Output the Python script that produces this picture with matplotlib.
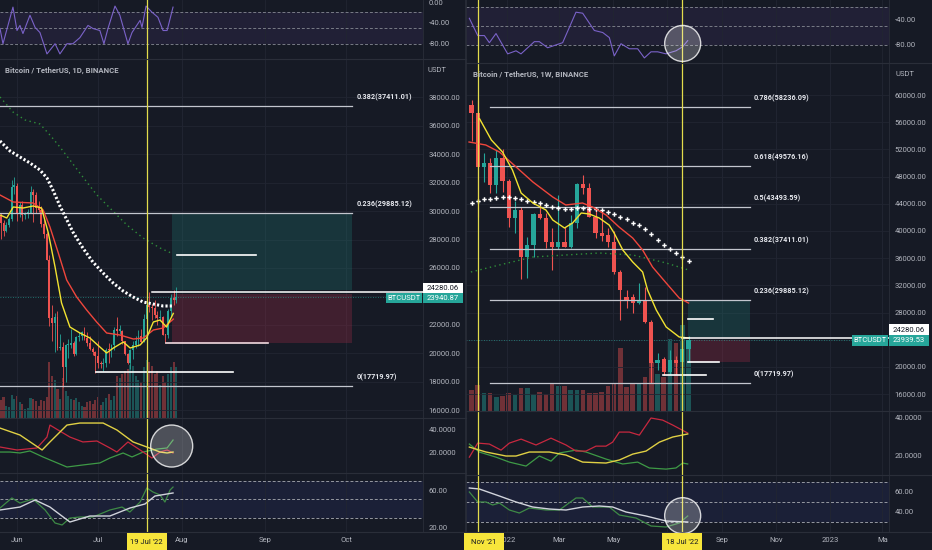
import matplotlib
matplotlib.use("Agg")
import matplotlib.pyplot as plt
from matplotlib.patches import Rectangle, Ellipse
from matplotlib.lines import Line2D
import numpy as np

plt.rcParams["font.family"] = ["Roboto", "DejaVu Sans"]

# ---------------- daily chart data (25 May .. 30 Jul 2022) ----------------
d_open = [29540, 29640, 29190, 28630, 29030, 29470, 31730,
          31800, 29800, 30450, 29700, 29860, 29900, 31370, 31130, 30200, 30110,
          29090, 28420, 26570, 22490, 22140, 22580, 20380, 20470, 19000, 20570,
          20570, 20720, 19970, 21110, 21230, 21500, 21040, 20730, 20280, 20100,
          19780, 19300, 19240, 19300, 20230, 20190, 20550, 21630, 21590, 21590,
          20850, 19960, 19330, 20210, 20590, 20830, 21200, 20790, 22430, 23400,
          23220, 23150, 22690, 22450, 22580, 21310, 21250, 22950, 23850, 23770]
d_high = [30200, 29850, 29380, 29240, 29560, 32220, 32400,
          31980, 30650, 30680, 29950, 30170, 31750, 31550, 31330, 30700, 30390,
          29440, 28540, 26880, 23360, 22800, 22980, 21360, 20790, 20650, 21000,
          21720, 20870, 21230, 21520, 21590, 21870, 21520, 21180, 20420, 20140,
          20880, 19430, 19650, 20350, 20750, 20650, 21840, 22530, 21950, 21600,
          20860, 20040, 20260, 20880, 21200, 21600, 21690, 22780, 23800, 24280,
          23440, 23760, 22990, 23020, 22650, 21350, 23110, 24200, 24440, 24670]
d_low = [29300, 28020, 28260, 28560, 28850, 29300, 31200,
         29300, 29580, 29280, 29470, 29500, 29880, 29220, 29850, 29950, 28850,
         28100, 26560, 21930, 20850, 20080, 20230, 20250, 17620, 17960, 19630,
         20350, 19770, 19890, 20850, 20900, 20960, 20510, 20200, 19850, 18630,
         18970, 18980, 18780, 19060, 19300, 19760, 20240, 21190, 21320, 20650,
         19880, 19240, 18910, 19620, 20380, 20480, 20750, 20760, 21580, 22910,
         22340, 22500, 21950, 22260, 21250, 20710, 21040, 22580, 23420, 23500]
d_close = [29640, 29190, 28630, 29030, 29470, 31730, 31800,
           29800, 30450, 29700, 29860, 29900, 31370, 31130, 30200, 30110, 29090,
           28420, 26570, 22490, 22140, 22580, 20380, 20470, 19000, 20570, 20570,
           20720, 19970, 21110, 21230, 21500, 21040, 20730, 20280, 20100, 19780,
           19300, 19240, 19300, 20230, 20190, 20550, 21630, 21590, 21590, 20850,
           19960, 19330, 20210, 20590, 20830, 21200, 20790, 22430, 23400, 23220,
           23150, 22690, 22450, 22580, 21310, 21250, 22950, 23850, 23770, 23940]
d_volume = [75, 80, 95, 55, 50, 105, 85,
            100, 70, 65, 40, 45, 90, 85, 75, 55, 80,
            75, 95, 250, 190, 170, 130, 85, 180, 120, 100,
            85, 80, 90, 70, 55, 50, 70, 75, 65, 80,
            95, 60, 70, 90, 110, 80, 100, 190, 180, 200,
            210, 220, 240, 235, 190, 170, 160, 230, 260, 250,
            235, 200, 210, 150, 190, 160, 200, 230, 250, 230]

d_ema_fast_x = [0.7, 3.2, 5.6, 9.3, 13.0, 16.1, 18.6, 21.1, 23.5, 26.6, 30.3, 34.0,
                37.7, 40.2, 42.7, 46.4, 48.9, 52.6, 55.0, 57.5, 60.0, 62.4, 64.9]
d_ema_fast = [29728, 29517, 30291, 30221, 30362, 30221, 28461, 26067, 23533, 21843,
              21421, 21069, 20435, 20013, 20365, 20787, 20365, 20576, 21069, 22195,
              22336, 21843, 22800]
d_ema_slow_x = [0.7, 5.6, 13.0, 16.7, 19.2, 22.3, 25.4, 29.1, 32.8, 36.5, 40.2, 45.1,
                50.1, 53.8, 57.5, 61.2, 64.9]
d_ema_slow = [31136, 30643, 30573, 30080, 28883, 27053, 25152, 23955, 23040, 22195,
              21421, 21280, 20998, 21069, 21632, 21773, 22400]
d_sma_x = [0.7, 4.4, 8.1, 11.8, 15.5, 18.1, 20.3, 22.9, 25.5, 27.7, 31.4, 35.1, 38.9,
           42.6, 46.3, 50.0, 53.7, 57.4, 61.1, 64.8]
d_sma = [34938, 34234, 33811, 33389, 32896, 32333, 31488, 30362, 29376, 28531, 27405,
         26419, 25645, 24941, 24378, 23955, 23603, 23462, 23322, 23322]
d_long_x = [0.7, 5.5, 10.0, 15.5, 19.2, 22.9, 26.6, 31.4, 36.6, 41.4, 47.7, 53.7, 60.0, 64.9]
d_long = [38035, 36979, 36416, 36134, 35360, 34515, 33600, 32403, 31136, 30221, 29024,
          28109, 27405, 26982]

d_wpr_x = [0.7, 1.8, 5.5, 7.0, 8.1, 9.2, 11.8, 13.7, 15.5, 18.1, 21.1, 22.9, 25.5, 27.7,
           30.3, 33.3, 35.1, 37.7, 39.2, 40.7, 43.3, 45.1, 48.1, 49.6, 52.6, 53.3, 54.8,
           57.0, 59.2, 61.1, 62.6, 64.8]
d_wpr = [-51, -80.4, -9.8, -54.9, -45.1, -60.8, -25.5, -49, -58.8, -100, -80.4, -100,
         -80.4, -80.4, -68.6, -45.1, -51, -54.9, -80.4, -51, -7.8, -25.5, -80.4, -58.8,
         -35.3, -49, -7.8, -19.6, -29.4, -54.9, -54.9, -9.8]

d_adx_x = [0.7, 8.1, 16.3, 19.2, 25.5, 30.3, 38.9, 44.0, 50.0, 55.1, 60.0, 62.6, 64.8]
d_adx = [40.8, 35.0, 22.5, 29.2, 43.3, 45.0, 45.0, 39.2, 29.2, 25.0, 20.8, 20.0, 20.8]
d_dim_x = [0.7, 7.0, 14.4, 18.1, 19.2, 22.2, 26.6, 31.4, 36.6, 41.4, 44.0, 48.1, 52.6,
           57.0, 60.0, 62.6, 64.8]
d_dim = [25.0, 22.5, 24.2, 33.3, 43.3, 39.2, 33.3, 29.2, 30.0, 24.2, 20.8, 29.2, 22.5,
         15.8, 20.8, 22.5, 20.0]
d_dip_x = [0.7, 4.4, 8.1, 11.8, 16.6, 25.5, 31.4, 37.7, 41.4, 46.3, 49.6, 53.7, 58.9,
           62.6, 64.8]
d_dip = [20.8, 20.8, 20.0, 21.7, 16.7, 8.3, 10.0, 11.7, 15.8, 20.0, 16.7, 20.8, 23.3,
         24.2, 30.8]

d_rsi_x = [0.7, 5.1, 8.1, 12.9, 17.4, 21.1, 23.7, 26.6, 30.3, 35.1, 41.4, 45.9, 48.8,
           52.6, 55.1, 57.4, 60.0, 61.8, 63.7, 64.8]
d_rsi = [40.5, 51.4, 45.9, 50.3, 38.4, 24.3, 22.2, 29.7, 30.8, 30.8, 38.4, 41.6, 36.2,
         47.0, 62.2, 57.8, 54.6, 47.0, 60.0, 63.2]
d_rsi_ma_x = [0.7, 8.1, 13.7, 19.2, 26.6, 34.0, 41.4, 48.8, 54.4, 58.1, 64.8]
d_rsi_ma = [38.4, 41.6, 49.2, 41.6, 25.4, 31.9, 31.9, 40.5, 44.9, 53.5, 56.8]

# ---------------- weekly chart data (22 Nov 2021 .. 25 Jul 2022) ----------------
w_open = [58500, 57350, 49400, 50000, 46800, 50700, 47350, 41900, 43100, 36200, 37950,
          42500, 41900, 38400, 37650, 38400, 37650, 41200, 46900, 46300, 42100, 39700,
          39400, 38400, 34000, 30300, 30300, 29450, 29900, 26600, 20600, 21200, 19300,
          21000, 20700, 22600]
w_high = [59300, 59200, 51500, 50700, 51900, 52100, 47600, 44400, 43500, 39100, 42700,
          44000, 42600, 40400, 45300, 40600, 42300, 47000, 48200, 47100, 43400, 43100,
          40500, 40000, 34200, 31300, 30700, 32300, 31700, 26900, 22000, 21500, 22500,
          21600, 24280, 24600]
w_low = [53300, 42000, 47200, 45600, 45600, 45700, 40600, 39700, 33000, 33100, 36200,
         41700, 37500, 34300, 37400, 37600, 37500, 40500, 45500, 42100, 39000, 38600,
         37700, 33700, 26900, 28700, 28000, 29300, 26500, 17600, 19600, 18800, 19000,
         18900, 20700, 20700]
w_close = [57350, 49400, 50000, 46800, 50700, 47350, 41900, 43100, 36200, 37950, 42500,
           41900, 38400, 37650, 38400, 37650, 41200, 46900, 46300, 42100, 39700, 39300,
           38400, 34000, 31300, 29900, 29450, 29900, 26600, 20600, 21000, 19300, 21000,
           20600, 22600, 23940]
w_volume = [294, 364, 252, 252, 196, 210, 252, 224, 322, 322, 238, 266, 238, 392, 350,
            350, 294, 294, 294, 252, 252, 266, 350, 392, 882, 336, 392, 392, 476, 686,
            518, 476, 1008, 952, 1204, 994]
w_sma = [44118, 44412, 44706, 44706, 44853, 45000, 45000, 44853, 44706, 44412, 44265,
         44118, 43824, 43529, 43382, 43235, 43235, 43382, 43382, 43235, 43235, 43088,
         42794, 42500, 42059, 41765, 41176, 40882, 40294, 39559, 38676, 37941, 37353,
         36765, 36176, 35588]

w_ema_fast_x = [1.3, 3.2, 5.0, 6.6, 8.0, 9.9, 12.0, 13.1, 15.0, 16.3, 17.7, 19.0, 20.6,
                22.2, 23.0, 24.4, 26.0, 27.6, 28.4, 29.8, 31.4, 33.5, 35.0]
w_ema_fast = [56500, 53382, 51618, 48971, 45588, 44118, 43088, 41618, 40441, 41176,
              42647, 42500, 41912, 40882, 39706, 37206, 35441, 33971, 31324, 28382,
              25882, 24412, 24265]
w_ema_slow_x = [-0.4, 2.3, 4.5, 7.2, 9.9, 13.1, 15.2, 17.9, 19.5, 21.7, 23.8, 26.0, 27.6,
                29.2, 31.4, 33.5, 35.0]
w_ema_slow = [53088, 52647, 51618, 49412, 47206, 45000, 43824, 44118, 43529, 42353,
              40588, 38971, 37206, 34706, 32353, 30147, 29412]
w_long_x = [-0.1, 4.5, 9.9, 15.2, 20.6, 26.0, 31.4, 35.0]
w_long = [33971, 35000, 36176, 36471, 36765, 36471, 35294, 34265]

w_wpr_x = [-0.35, 1.0, 2.07, 2.88, 3.95, 5.83, 7.18, 7.98, 10.13, 10.94, 12.28, 14.7,
           16.85, 17.93, 19.81, 21.16, 22.23, 23.03, 24.11, 25.46, 26.8, 27.88, 28.95,
           30.03, 31.37, 32.98, 34.06, 34.87]
w_wpr = [-38.4, -65.6, -65.6, -76.8, -62.4, -94.4, -89.6, -94.4, -75.2, -75.2, -84.8,
         -76.8, -28.8, -30.4, -57.6, -60.8, -68.8, -97.6, -78.4, -86.4, -86.4, -100.8,
         -91.2, -91.2, -94.4, -89.6, -83.2, -73.6]

w_adx_x = [-0.35, 2.34, 5.56, 7.18, 9.33, 12.55, 15.24, 17.93, 21.69, 23.84, 26.0, 28.15,
           30.3, 32.45, 34.87]
w_adx = [24.2, 21.6, 19.5, 19.5, 21.6, 21.6, 20.0, 16.3, 15.8, 17.4, 20.5, 22.1, 26.8,
         29.5, 31.1]
w_dim_x = [-0.35, 1.0, 2.88, 4.76, 6.1, 8.0, 10.4, 12.82, 15.24, 16.85, 18.47, 20.08,
           21.69, 22.76, 23.84, 25.46, 27.07, 28.95, 30.83, 32.45, 34.87]
w_dim = [18.9, 26.3, 25.8, 22.6, 26.3, 28.4, 25.3, 28.9, 25.3, 22.1, 22.1, 24.7, 24.7,
         26.8, 32.1, 32.1, 30.5, 39.5, 38.4, 35.8, 31.6]
w_dip_x = [-0.35, 1.26, 3.95, 6.1, 8.79, 10.94, 12.82, 14.17, 16.85, 18.47, 21.69,
           24.38, 26.8, 28.68, 31.37, 32.98, 34.06, 34.87]
w_dip = [25.8, 21.6, 18.9, 16.3, 14.2, 19.5, 16.8, 21.1, 22.6, 21.6, 17.9, 15.3, 16.3,
         13.2, 12.6, 13.2, 15.8, 15.3]

w_rsi_x = [-0.35, 1.0, 2.34, 3.41, 4.49, 6.1, 7.71, 9.33, 12.01, 14.17, 16.85, 17.93,
           19.54, 22.23, 23.84, 26.53, 28.95, 31.37, 33.52, 34.87]
w_rsi = [60, 50, 50, 47, 49, 42, 39, 44, 42, 42, 54, 54, 45, 45, 37, 34, 26, 25, 29, 36]
w_rsi_ma_x = [-0.35, 1.26, 4.49, 7.18, 9.87, 12.55, 15.24, 17.93, 20.62, 22.76, 24.92,
              28.15, 31.37, 34.87]
w_rsi_ma = [64, 63, 56, 50, 45, 43, 42, 45, 46, 45, 40, 36, 31, 30]

fib_ratios_d = ["0.382", "0.236", "0"]
fib_levels_d = [37411.01, 29885.12, 17719.97]
fib_ratios_w = ["0.786", "0.618", "0.5", "0.382", "0.236", "0"]
fib_levels_w = [58236.09, 49576.16, 43493.59, 37411.01, 29885.12, 17719.97]

d_month_x = [7, 37, 68, 99, 129]
d_month_lbl = ["Jun", "Jul", "Aug", "Sep", "Oct"]
w_month_x = [5.71, 14.14, 22.86, 31.57, 40.43, 49.14, 57.86, 66.29]
w_month_lbl = ["2022", "Mar", "May", "", "Sep", "Nov", "2023", "Ma"]

last_d, last_w, ray_price = 23940.87, 23939.53, 24280.06

# ---------------- styling ----------------
W, H = 932, 550
BG = "#161a25"
GRID = "#212532"
SEP = "#2a2e39"
TXT = "#b2b5be"
UP, DOWN = "#26a69a", "#ef5350"
YEL = "#e3dc4c"
FS = 5.5

fig = plt.figure(figsize=(W / 100, H / 100), dpi=100, facecolor=BG)


def panel(x0, y0, x1, y1, z=2, face=BG):
    ax = fig.add_axes([x0 / W, 1 - y1 / H, (x1 - x0) / W, (y1 - y0) / H], zorder=z)
    ax.set_facecolor(face)
    for s in ax.spines.values():
        s.set_visible(False)
    ax.yaxis.tick_right()
    ax.tick_params(axis="y", length=0, pad=4, labelsize=FS, labelcolor=TXT)
    ax.tick_params(axis="x", length=0, labelbottom=False)
    return ax


def px(ax, x, y):
    X, Y = ax.transData.transform((x, y))
    return X, H - Y


def fig_rect(x0, y0, x1, y1, fc, z=20, alpha=1.0):
    fig.add_artist(Rectangle((x0 / W, 1 - y1 / H), (x1 - x0) / W, (y1 - y0) / H,
                             transform=fig.transFigure, fc=fc, ec="none", zorder=z, alpha=alpha))


def tag(x0, x1, yc, h, text, fc, tc):
    fig_rect(x0, yc - h / 2, x1, yc + h / 2, fc)
    fig.text((x0 + x1) / 2 / W, 1 - yc / H, text, color=tc, fontsize=FS, ha="center",
             va="center", zorder=21)


def circle(ax, x, y, r):
    cx, cy = px(ax, x, y)
    fig.add_artist(Ellipse((cx / W, 1 - cy / H), 2 * r / W, 2 * r / H, transform=fig.transFigure,
                           fc=(1, 1, 1, 0.24), ec=(1, 1, 1, 0.8), lw=1.0, zorder=15))


def candles(ax, o, h, l, c, width, wick_lw, min_body):
    o, h, l, c = map(np.asarray, (o, h, l, c))
    x = np.arange(len(o))
    col = np.where(c >= o, UP, DOWN)
    ax.vlines(x, l, h, colors=col, lw=wick_lw, zorder=5)
    ax.bar(x, np.maximum(np.abs(c - o), min_body), bottom=np.minimum(o, c), width=width,
           color=col, lw=0, zorder=6)
    return col


def side(x0, x1, rows, xlim, months, month_lbl, data, cfg):
    (y_top, y_main, y_adx, y_rsi, y_end) = rows
    wpr_ax = panel(x0, y_top, x1, y_main)
    vol_ax = panel(x0, y_main, x1, y_adx, z=1)
    ax = panel(x0, y_main, x1, y_adx, z=2, face="none")
    adx_ax = panel(x0, y_adx, x1, y_rsi)
    rsi_ax = panel(x0, y_rsi, x1, y_end)
    axes = [wpr_ax, vol_ax, ax, adx_ax, rsi_ax]
    for a in axes:
        a.set_xlim(*xlim)
        a.set_xticks(months)
        a.grid(axis="x", color=GRID, lw=0.6, zorder=0)
    vol_ax.set_yticks([])

    # Williams %R
    wpr_ax.set_ylim(*cfg["wpr_lim"])
    wpr_ax.axhspan(-80, -20, color="#7e57c2", alpha=0.11, lw=0)
    for lv in (-20, -50, -80):
        wpr_ax.axhline(lv, color="#787b86", lw=0.7, ls=(0, (3, 2)))
    wpr_ax.plot(data["wpr_x"], data["wpr"], color="#7a62c8", lw=0.8)
    wpr_ax.set_yticks(cfg["wpr_ticks"])
    wpr_ax.set_yticklabels([f"{v:.2f}" for v in cfg["wpr_ticks"]])

    # price
    ax.set_ylim(*cfg["price_lim"])
    ax.set_yticks(cfg["price_ticks"])
    ax.set_yticklabels([f"{v:.2f}" for v in cfg["price_ticks"]])
    ax.grid(axis="y", color=GRID, lw=0.6, zorder=0)
    col = candles(ax, data["o"], data["h"], data["l"], data["c"], 0.7, cfg["wick"], cfg["minb"])
    vol_ax.bar(np.arange(len(data["v"])), data["v"], width=0.75, color=col, alpha=0.42, lw=0)
    vol_ax.set_ylim(0, cfg["vol_top"])

    ax.plot(data["long_x"], data["long"], color="#2f8f3a", lw=1.0, ls=(0, (1, 2.5)), zorder=7)
    if cfg["sma_markers"]:
        ax.plot(np.arange(len(data["sma"])), data["sma"], ls="none", marker="P", ms=3.2,
                color="white", mew=0, zorder=8)
    else:
        ax.plot(data["sma_x"], data["sma"], color="white", lw=2.2, ls=(0, (0.7, 0.7)), zorder=8)
    ax.plot(data["slow_x"], data["slow"], color="#f0463c", lw=1.0, zorder=8)
    ax.plot(data["fast_x"], data["fast"], color="#f2e331", lw=1.0, zorder=9)

    # fib levels
    fx0, fx1 = cfg["fib_x"]
    for r, lv in zip(cfg["fib_r"], cfg["fib_l"]):
        ax.plot([fx0, fx1], [lv, lv], color="#c3c6ce", lw=0.9, zorder=7)
        ax.annotate(f"{r}({lv:.2f})", (fx1, lv), xytext=(3, 3.2), textcoords="offset points",
                    color="#e6e8ee", fontsize=5.2, fontweight="bold", va="bottom", ha="left",
                    zorder=10)

    # long position tool
    bx0, bx1 = cfg["box_x"]
    tp_top, tp_bot, sl_top, sl_bot = cfg["box_y"]
    ax.add_patch(Rectangle((bx0, tp_bot), bx1 - bx0, tp_top - tp_bot, fc="#1f6f6c", alpha=0.32,
                           lw=0, zorder=3))
    ax.add_patch(Rectangle((bx0, sl_bot), bx1 - bx0, sl_top - sl_bot, fc="#9a2c45", alpha=0.32,
                           lw=0, zorder=3))

    # drawn horizontal segments
    for (sx0, sx1, sy, sc) in cfg["segs"]:
        ax.plot([sx0, sx1], [sy, sy], color=sc, lw=1.2, zorder=9)
    ax.plot([cfg["ray_x"], xlim[1]], [ray_price, ray_price], color="white", lw=1.1, zorder=9)
    ax.axhline(cfg["last"], color=UP, lw=0.6, ls=(0, (1, 2)), alpha=0.8, zorder=4)

    # ADX / DMI
    adx_ax.set_ylim(*cfg["adx_lim"])
    adx_ax.plot(data["dip_x"], data["dip"], color="#3e9a46", lw=0.9)
    adx_ax.plot(data["dim_x"], data["dim"], color="#c8283f", lw=0.9)
    adx_ax.plot(data["adx_x"], data["adx"], color="#e0d044", lw=1.0)
    adx_ax.set_yticks([20, 40])
    adx_ax.set_yticklabels(["20.0000", "40.0000"])

    # RSI
    rsi_ax.set_ylim(*cfg["rsi_lim"])
    rsi_ax.axhspan(30, 70, color="#3d4aa8", alpha=0.14, lw=0)
    for lv in (30, 50, 70):
        rsi_ax.axhline(lv, color="#9598a1", lw=0.7, ls=(0, (3, 2)))
    rsi_ax.plot(data["rsi_x"], data["rsi"], color="#3e8a46", lw=0.9)
    rsi_ax.plot(data["rsi_ma_x"], data["rsi_ma"], color="#d1d4dc", lw=1.0)
    rsi_ax.set_yticks(cfg["rsi_ticks"])
    rsi_ax.set_yticklabels([f"{v:.2f}" for v in cfg["rsi_ticks"]])
    rsi_ax.tick_params(axis="x", labelbottom=True, labelsize=FS, labelcolor=TXT, pad=3.5)
    rsi_ax.set_xticklabels(month_lbl)

    # vertical date markers
    for vx in cfg["vlines"]:
        for a in (wpr_ax, ax, adx_ax, rsi_ax):
            a.axvline(vx, color=YEL, lw=0.9, zorder=12)

    # separators
    for yy in (y_main, y_adx, y_rsi, y_end):
        fig.add_artist(Line2D([x0 / W, (x1 + 43) / W], [1 - yy / H] * 2, color=SEP, lw=0.8,
                              transform=fig.transFigure, zorder=14))
    fig.add_artist(Line2D([x1 / W] * 2, [1 - y_end / H, 1], color=SEP, lw=0.6,
                          transform=fig.transFigure, zorder=14))
    return wpr_ax, ax, adx_ax, rsi_ax


daily = dict(o=d_open, h=d_high, l=d_low, c=d_close, v=d_volume,
             fast_x=d_ema_fast_x, fast=d_ema_fast, slow_x=d_ema_slow_x, slow=d_ema_slow,
             sma_x=d_sma_x, sma=d_sma, long_x=d_long_x, long=d_long,
             wpr_x=d_wpr_x, wpr=d_wpr, adx_x=d_adx_x, adx=d_adx, dim_x=d_dim_x, dim=d_dim,
             dip_x=d_dip_x, dip=d_dip, rsi_x=d_rsi_x, rsi=d_rsi, rsi_ma_x=d_rsi_ma_x,
             rsi_ma=d_rsi_ma)
weekly = dict(o=w_open, h=w_high, l=w_low, c=w_close, v=w_volume,
              fast_x=w_ema_fast_x, fast=w_ema_fast, slow_x=w_ema_slow_x, slow=w_ema_slow,
              sma=w_sma, long_x=w_long_x, long=w_long,
              wpr_x=w_wpr_x, wpr=w_wpr, adx_x=w_adx_x, adx=w_adx, dim_x=w_dim_x, dim=w_dim,
              dip_x=w_dip_x, dip=w_dip, rsi_x=w_rsi_x, rsi=w_rsi, rsi_ma_x=w_rsi_ma_x,
              rsi_ma=w_rsi_ma)

cfg_d = dict(wpr_lim=(-109.8, 3.9), wpr_ticks=[-80, -40, 0],
             price_lim=(15437, 40710), price_ticks=list(range(16000, 38001, 2000)),
             wick=0.6, minb=80, vol_top=1615, sma_markers=False,
             fib_x=(0.7, 131.1), fib_r=fib_ratios_d, fib_l=fib_levels_d,
             box_x=(64.4, 131.1), box_y=(29885.12, 24450, 24200, 20717),
             segs=[(66.3, 95.5, 26912, "white"), (62.2, 100.0, 20717, "#f1d9df"),
                   (36.3, 87.0, 18675, "white")],
             ray_x=57.0, last=last_d, adx_lim=(3.3, 49.2), rsi_lim=(14.6, 78.4),
             rsi_ticks=[20, 60], vlines=[55])
cfg_w = dict(wpr_lim=(-108.8, -9.6), wpr_ticks=[-80, -40],
             price_lim=(13529, 64706), price_ticks=list(range(16000, 60001, 4000)),
             wick=0.8, minb=150, vol_top=4872, sma_markers=True,
             fib_x=(2.98, 44.9), fib_r=fib_ratios_w, fib_l=fib_levels_w,
             box_x=(34.9, 44.9), box_y=(29885.12, 24412, 23970, 20735),
             segs=[(34.9, 38.95, 27059, "white"), (34.9, 39.9, 20735, "white"),
                   (30.9, 37.9, 18824, "white")],
             ray_x=33.9, last=last_w, adx_lim=(9.5, 43.2), rsi_lim=(20, 77),
             rsi_ticks=[40, 60], vlines=[1, 34])

dw, dax, dadx, drsi = side(0, 423, (0, 59, 418, 473, 532), (0.7, 157.4), d_month_x, d_month_lbl,
                           daily, cfg_d)
ww, wax, wadx, wrsi = side(466, 889, (0, 63, 411, 475, 532), (-0.89, 67.34), w_month_x,
                           w_month_lbl, weekly, cfg_w)

fig.add_artist(Line2D([466 / W] * 2, [0, 1], color="#2a2e39", lw=1.2, transform=fig.transFigure,
                      zorder=14))

# titles / axis units
fig.text(5 / W, 1 - 70 / H, "Bitcoin / TetherUS, 1D, BINANCE", color=TXT, fontsize=5.6,
         fontweight="bold", va="center")
fig.text(473 / W, 1 - 74 / H, "Bitcoin / TetherUS, 1W, BINANCE", color=TXT, fontsize=5.6,
         fontweight="bold", va="center")
fig.text(428 / W, 1 - 70 / H, "USDT", color=TXT, fontsize=FS, va="center")
fig.text(896 / W, 1 - 74 / H, "USDT", color=TXT, fontsize=FS, va="center")

# price tags
_, y_last = px(dax, 0, last_d)
_, y_ray = px(dax, 0, ray_price)
tag(386, 422, y_last + 1, 10, "BTCUSDT", UP, "white")
tag(423, 463, y_last + 1, 10, f"{last_d:.2f}", UP, "white")
tag(423, 463, y_ray - 4, 10, f"{ray_price:.2f}", "white", "#131722")
_, y_last = px(wax, 0, last_w)
_, y_ray = px(wax, 0, ray_price)
tag(852, 888, y_last, 11, "BTCUSDT", UP, "white")
tag(889, 929, y_last, 11, f"{last_w:.2f}", UP, "white")
tag(889, 929, y_ray - 8, 11, f"{ray_price:.2f}", "white", "#131722")

# date tags on the x axis
for a, vx, text, shift in ((drsi, 55, "19 Jul '22", 0), (wrsi, 34, "18 Jul '22", 0),
                           (wrsi, 1, "Nov '21", 6)):
    cx, _ = px(a, vx, 0)
    cx += shift
    tag(cx - 20, cx + 20, 541.5, 17, text, "#f7e53b", "#131722")

# highlight circles
circle(dadx, 64.3, 25.8, 21)
circle(ww, 34.06, -78.0, 18)
circle(wrsi, 34.06, 36.3, 18)

fig.savefig("out.png", dpi=100, facecolor=BG)
